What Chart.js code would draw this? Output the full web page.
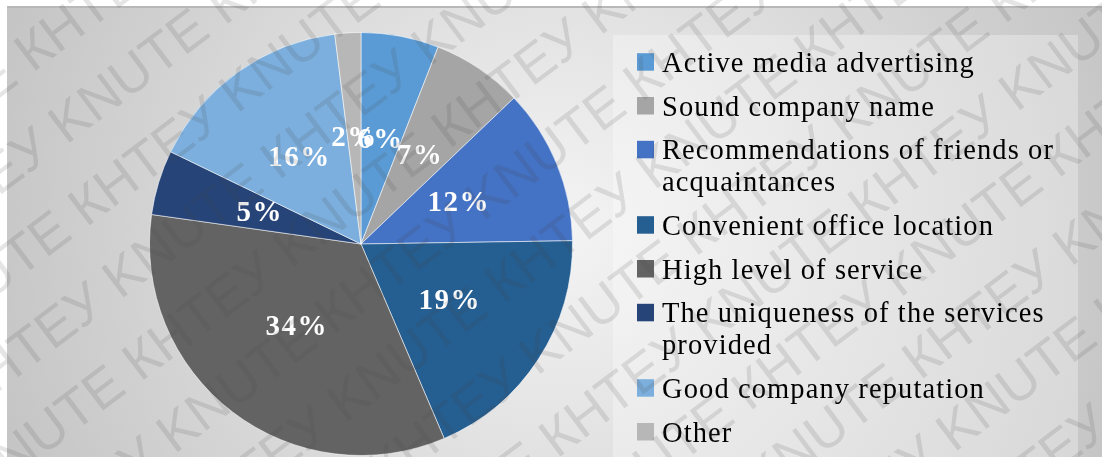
<!DOCTYPE html>
<html>
<head>
<meta charset="utf-8">
<script src="https://cdn.jsdelivr.net/npm/chart.js@4.4.0/dist/chart.umd.min.js"></script>
<style>
  html, body { margin: 0; padding: 0; background: #ffffff; }
  #wrap { position: relative; width: 1102px; height: 457px; }
</style>
</head>
<body>
<div id="wrap"><canvas id="Keuze_Chart"></canvas></div>
<script>
// Reasons for choosing the company, % of respondents
var categorieen = [
    'Active media advertising',
    'Sound company name',
    ['Recommendations of friends or', 'acquaintances'],
    'Convenient office location',
    'High level of service',
    ['The uniqueness of the services', 'provided'],
    'Good company reputation',
    'Other'
];
var aandelen = [6, 7, 12, 19, 34, 5, 16, 2];
var kleuren = ['#5B9BD5', '#A5A5A5', '#4472C4', '#255E91', '#636363', '#264478', '#7CAFDD', '#B7B7B7'];
var watermerkWoorden = ['КНТЕУ', 'KNUTE'];

// Achtergrond: grijze radiale vulling met een lichter legendavlak
var achtergrondPlugin = {
    id: 'achtergrond',
    beforeDraw: function(chart) {
        var ctx = chart.ctx;
        ctx.save();
        ctx.fillStyle = '#ffffff';
        ctx.fillRect(0, 0, chart.width, chart.height);
        var grad = ctx.createRadialGradient(560, 230, 0, 560, 230, 600);
        grad.addColorStop(0, '#f4f4f4');
        grad.addColorStop(1, '#c4c4c4');
        ctx.fillStyle = grad;
        ctx.fillRect(7, 7, chart.width - 7, chart.height - 7);
        ctx.fillStyle = '#b8b8b8';
        ctx.fillRect(7, 6, chart.width - 7, 2);
        ctx.fillStyle = 'rgba(255,255,255,0.3)';
        ctx.fillRect(613, 35, 465, chart.height - 35);
        ctx.restore();
    }
};

// Percentages in de taartpunten
var labelPlugin = {
    id: 'percentLabels',
    afterDraw: function(chart) {
        var ctx = chart.ctx;
        var meta = chart.getDatasetMeta(0);
        ctx.save();
        ctx.font = 'bold 29px "Liberation Serif", "Times New Roman", serif';
        ctx.letterSpacing = '1.5px';
        ctx.fillStyle = '#ffffff';
        ctx.textAlign = 'center';
        ctx.textBaseline = 'middle';
        meta.data.forEach(function(arc, i) {
            var p = arc.tooltipPosition();
            ctx.fillText(chart.data.datasets[0].data[i] + '%', p.x, p.y);
        });
        ctx.restore();
    }
};

// Legenda rechts, met regels die over twee lijnen lopen
var legendaPlugin = {
    id: 'legenda',
    afterDraw: function(chart) {
        var ctx = chart.ctx;
        var kleur = chart.data.datasets[0].backgroundColor;
        var x = 637;
        var y = 71.7;
        ctx.save();
        ctx.font = '28.5px "Liberation Serif", "Times New Roman", serif';
        ctx.letterSpacing = '1.1px';
        ctx.textBaseline = 'alphabetic';
        chart.data.labels.forEach(function(label, i) {
            var regels = Array.isArray(label) ? label : [label];
            ctx.fillStyle = kleur[i];
            ctx.fillRect(x, y - 18.5, 17, 17.5);
            ctx.fillStyle = '#000000';
            regels.forEach(function(regel, j) {
                ctx.fillText(regel, x + 25, y + j * 31.6);
            });
            y += 43.8 + (regels.length - 1) * 31.6;
        });
        ctx.restore();
    }
};

// Watermerk schuin over de hele afbeelding
var watermerkPlugin = {
    id: 'watermerk',
    afterDraw: function(chart) {
        var ctx = chart.ctx;
        var regel = '';
        for (var n = 0; n < 8; n++) {
            regel += watermerkWoorden[0] + ' ' + watermerkWoorden[1] + ' ';
        }
        ctx.save();
        ctx.font = '54px "Liberation Sans", Arial, sans-serif';
        ctx.fillStyle = 'rgba(70,70,70,0.14)';
        ctx.rotate(-37 * Math.PI / 180);
        for (var k = -2; k < 16; k++) {
            ctx.fillText(regel, -560 + (k % 2) * 180 - k * 25, k * 78);
        }
        ctx.restore();
    }
};

var keuzeChart;
function tekenKeuzeGrafiek() {
    var ctx = document.getElementById('Keuze_Chart').getContext('2d');
    keuzeChart = new Chart(ctx, {
        type: 'pie',
        data: {
            labels: categorieen,
            datasets: [{
                data: aandelen,
                backgroundColor: kleuren,
                borderColor: 'rgba(255,255,255,0.55)',
                borderWidth: 1
            }]
        },
        options: {
            responsive: true,
            maintainAspectRatio: false,
            animation: false,
            layout: { padding: { left: 149, right: 529, top: 32, bottom: 1 } },
            plugins: {
                legend: { display: false },
                tooltip: { enabled: false }
            }
        },
        plugins: [achtergrondPlugin, labelPlugin, legendaPlugin, watermerkPlugin]
    });
}

tekenKeuzeGrafiek();
</script>
</body>
</html>
